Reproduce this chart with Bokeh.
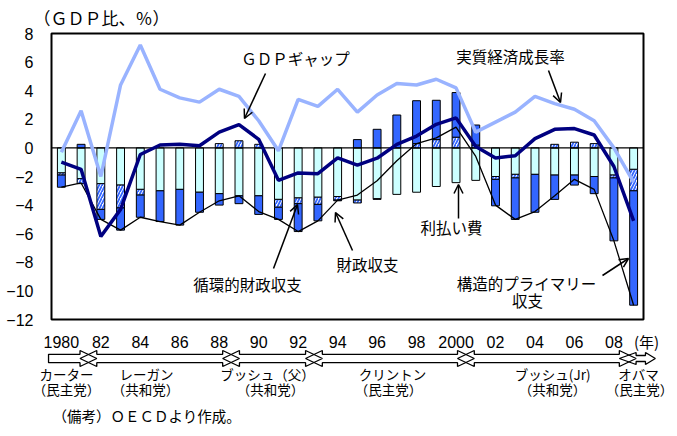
from bokeh.plotting import figure
from bokeh.models import Range1d, Arrow, OpenHead
from bokeh.embed import file_html
from bokeh.resources import INLINE
from bokeh.core.properties import value

# ---------------- data ----------------
years = list(range(1980, 2010))
# interest payments (shown as negative contribution)
interest = [1.75, 2.15, 2.5, 2.6, 2.9, 3.0, 2.9, 3.1, 3.2, 3.35,
            3.35, 3.6, 3.5, 3.45, 3.4, 3.65, 3.55, 3.25, 3.1, 2.7,
            2.43, 2.27, 2.0, 1.85, 1.85, 1.9, 1.9, 2.0, 1.9, 1.5]
# cyclical balance
cyclical = [-0.15, -0.35, -1.8, -1.6, -0.4, 0.0, 0.0, 0.0, 0.3, 0.5,
            0.25, -0.55, -0.4, -0.5, -0.25, -0.2, -0.05, 0.0, 0.3, 0.58,
            0.75, 0.2, -0.2, -0.25, 0.0, 0.25, 0.4, 0.3, -0.2, -1.5]
# structural primary balance
structural = [-0.85, 0.25, -0.7, -1.55, -1.55, -2.15, -2.5, -1.4, -0.8, -0.55,
              -1.3, -0.85, -1.95, -1.15, -0.05, 0.58, 1.3, 2.3, 3.0, 2.75,
              3.12, 1.4, -1.85, -2.9, -2.65, -1.7, -0.7, -1.2, -4.4, -8.0]
# fiscal balance
balance = [-2.75, -2.45, -5.0, -5.75, -4.85, -5.15, -5.4, -4.5, -3.7, -3.35,
           -4.45, -5.0, -5.85, -5.1, -3.65, -3.3, -2.3, -0.9, 0.3, 0.7,
           1.45, -0.6, -4.0, -5.0, -4.45, -3.35, -2.2, -2.9, -6.5, -11.0]
# GDP gap
gdp_gap = [-1.0, -1.5, -6.2, -4.3, -0.46, 0.2, 0.25, 0.15, 1.1, 1.63,
           0.6, -2.27, -1.75, -1.8, -0.7, -1.2, -0.72, 0.25, 0.83, 1.65,
           2.1, 0.1, -0.7, -0.55, 0.65, 1.3, 1.35, 0.9, -1.3, -5.1]
# real GDP growth
growth = [-0.3, 2.6, -2.0, 4.4, 7.2, 4.1, 3.5, 3.2, 4.1, 3.6,
          1.9, -0.2, 3.4, 2.9, 4.1, 2.5, 3.7, 4.5, 4.4, 4.8,
          4.2, 1.1, 1.8, 2.5, 3.6, 3.1, 2.7, 1.9, 0.0, -2.4]

y_ticks = list(range(-12, 9, 2))
y_tick_labels = ["\u221212", "\u221210", "\u22128", "\u22126", "\u22124", "\u22122",
                 "0", "2", "4", "6", "8"]
x_ticks = list(range(1980, 2009, 2))
x_tick_labels = ["1980", "82", "84", "86", "88", "90", "92", "94", "96", "98",
                 "2000", "02", "04", "06", "08"]

presidents = ["カーター", "レーガン", "ブッシュ（父）", "クリントン", "ブッシュ(Jr)", "オバマ"]
parties = ["（民主党）", "（共和党）", "（共和党）", "（民主党）", "（共和党）", "（民主党）"]
term_bounds = [1979.35, 1981.37, 1988.6, 1992.8, 2000.5, 2008.7, 2010.1]

# ---------------- geometry helpers ----------------
W, H = 677, 436
LEFT, RIGHT, TOP, FRAME_BOTTOM = 51, 643, 33, 319
X0, X1, Y0, Y1 = 1979.5, 2009.5, -12, 8
PPY = (RIGHT - LEFT) / (X1 - X0)
PPU = (FRAME_BOTTOM - TOP) / (Y1 - Y0)

def X(px):
    return X0 + (px - LEFT) / PPY

def Y(py):
    return Y1 - (py - TOP) / PPU

JP = value("Noto Sans CJK JP")
NUM = value("Liberation Sans")

# ---------------- stacking ----------------
i_top = [0.0] * len(years)
i_bot = [-v for v in interest]
cx, cb, ct = [], [], []
sx, sb, st = [], [], []
for k, yr in enumerate(years):
    c = cyclical[k]
    s = structural[k]
    if c < 0:
        cx.append(yr); cb.append(-interest[k] + c); ct.append(-interest[k])
    elif c > 0:
        cx.append(yr); cb.append(0.0); ct.append(c)
    if s < 0:
        top = -interest[k] + min(c, 0.0)
        sx.append(yr); st.append(top); sb.append(top + s)
    elif s > 0:
        base = max(c, 0.0)
        sx.append(yr); sb.append(base); st.append(base + s)

# ---------------- figure (frame = whole canvas; plot box drawn in data space) ----------------
p = figure(width=W, height=H, x_range=Range1d(X(0), X(W)), y_range=Range1d(Y(H), Y(0)),
           toolbar_location=None, output_backend="svg", min_border=0,
           x_axis_location=None, y_axis_location=None)
p.grid.visible = False
p.outline_line_color = None
p.background_fill_color = "white"
p.border_fill_color = "white"

BW = 0.4
p.vbar(x=years, width=BW, bottom=i_bot, top=i_top, fill_color="#CCFFFF",
       line_color="black", line_width=1)
p.vbar(x=cx, width=BW, bottom=cb, top=ct, fill_color="white",
       hatch_pattern="/", hatch_color="#3366FF", hatch_scale=6, hatch_weight=1.8,
       line_color="black", line_width=1)
p.vbar(x=sx, width=BW, bottom=sb, top=st, fill_color="#3366FF",
       line_color="black", line_width=1)

# zero line
p.segment(x0=[X0], y0=[0], x1=[X1], y1=[0], line_color="black", line_width=1.2)

p.line(years, balance, line_color="black", line_width=1.3)
p.line(years, growth, line_color="#99B3FF", line_width=3.5)
p.line(years, gdp_gap, line_color="#000080", line_width=3.5)

# plot box
p.quad(left=[X0], right=[X1], bottom=[Y0], top=[Y1], fill_alpha=0,
       line_color="black", line_width=2)

# axis tick labels
p.text(x=[X(33)] * len(y_ticks), y=y_ticks, text=y_tick_labels, text_font=NUM,
       text_font_size="16px", text_align="right", text_baseline="middle", text_color="black")
p.text(x=x_ticks, y=[Y(341)] * len(x_ticks), text=x_tick_labels, text_font=NUM,
       text_font_size="16px", text_align="center", text_baseline="middle", text_color="black")

def txt(pts, texts, size, align="center", font=JP):
    p.text(x=[X(a) for a, b in pts], y=[Y(b) for a, b in pts], text=texts,
           text_font=font, text_font_size=size, text_align=align,
           text_baseline="middle", text_color="black")

txt([(646, 341)], ["(年)"], "15px")
txt([(33, 17)], ["（ＧＤＰ比、％）"], "17px", "left")

# annotations (text + arrows)
ann_text = ["ＧＤＰギャップ", "実質経済成長率", "循環的財政収支", "財政収支", "利払い費",
            "構造的プライマリー", "収支"]
ann_px = [(295, 57), (510, 55), (247, 283), (367, 263), (451, 226), (526, 282), (527, 299)]
txt(ann_px, ann_text, "15.5px")

arrows_px = [((265, 73), (244, 118)), ((548, 70), (560, 102)), ((273, 268), (297, 204)),
             ((352, 250), (335, 212)), ((458, 218), (458, 184)), ((602, 275), (628, 258))]
for (a, b) in arrows_px:
    p.add_layout(Arrow(end=OpenHead(size=9, line_width=1.5, line_color="black"),
                       x_start=X(a[0]), y_start=Y(a[1]), x_end=X(b[0]), y_end=Y(b[1]),
                       line_width=1.5, line_color="black"))

# ---------------- presidential terms ----------------
yc, sh, hh = 358, 4.2, 8.0
n = len(term_bounds) - 1
axs, ays = [], []
for i in range(n):
    a, b = term_bounds[i], term_bounds[i + 1]
    last = (i == n - 1)
    L = 0.5 if last else 0.85
    hv = 6.0 if last else hh
    sv = 3.0 if last else sh
    half = 0.425
    px_, py_ = [], []
    if i == 0:
        px_ += [a, a]
        py_ += [yc + sv, yc - sv]
    else:
        lb = a + half
        px_ += [a - half, lb, lb]
        py_ += [yc, yc - hv, yc - sv]
    if not last:
        rtip, rbase = b + half, b - half
    else:
        rtip, rbase = b, b - L
    px_ += [rbase, rbase, rtip, rbase, rbase]
    py_ += [yc - sv, yc - hv, yc, yc + hv, yc + sv]
    if i != 0:
        px_ += [lb, lb]
        py_ += [yc + sv, yc + hv]
    axs.append(px_)
    ays.append([Y(v) for v in py_])
p.patches(axs, ays, fill_color="white", fill_alpha=0.0, line_color="black", line_width=1.3)

name_px = [66, 146, 267, 392, 552, 638]
party_px = [66, 145, 270, 388, 552, 639]
txt([(v, 373) for v in name_px], presidents, "13.5px")
txt([(v, 388) for v in party_px], parties, "13.5px")
txt([(52, 415)], ["（備考）ＯＥＣＤより作成。"], "14.5px", "left")

open("out.html", "w").write(file_html(p, INLINE))
